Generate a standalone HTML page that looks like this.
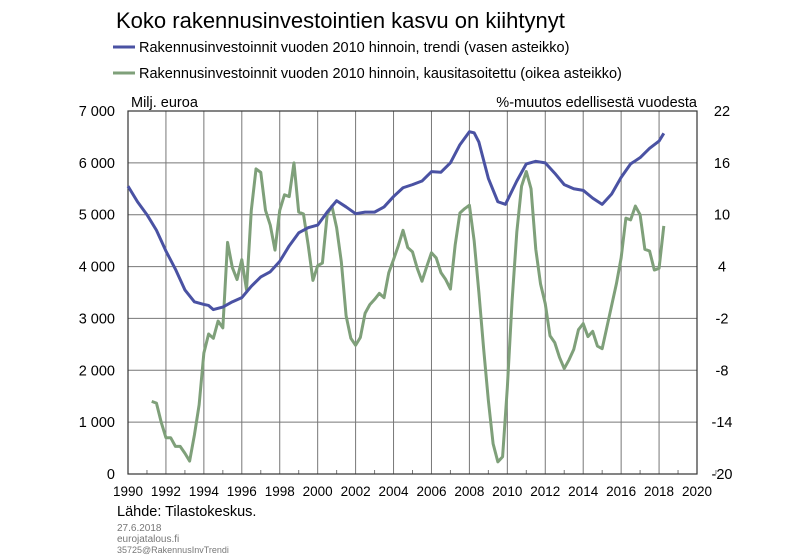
<!DOCTYPE html>
<html><head><meta charset="utf-8"><style>
body{margin:0;background:#fff;}
svg{display:block;font-family:"Liberation Sans",Arial,sans-serif;}
</style></head><body>
<svg id="chart" width="800" height="556">
<text x="116" y="28" font-size="22" fill="#000">Koko rakennusinvestointien kasvu on kiihtynyt</text>
<g>
<line x1="113" y1="47" x2="135" y2="47" stroke="#4a52a3" stroke-width="3"/>
<text x="139" y="52" font-size="14.5">Rakennusinvestoinnit vuoden 2010 hinnoin, trendi (vasen asteikko)</text>
<line x1="113" y1="73" x2="135" y2="73" stroke="#7fa07a" stroke-width="3"/>
<text x="139" y="78" font-size="14.5">Rakennusinvestoinnit vuoden 2010 hinnoin, kausitasoitettu (oikea asteikko)</text>
</g>
<text x="131" y="107" font-size="14.5">Milj. euroa</text>
<text x="697" y="107" font-size="14.5" text-anchor="end">%-muutos edellisestä vuodesta</text>
<g id="grid"></g>
<g id="marks"></g>
<g id="labels"></g>
<text x="117" y="516" font-size="14.5">Lähde: Tilastokeskus.</text>
<text x="117" y="531" font-size="10" fill="#777">27.6.2018</text>
<text x="117" y="542" font-size="10" fill="#777">eurojatalous.fi</text>
<text x="117" y="553" font-size="9" fill="#777">35725@RakennusInvTrendi</text>
</svg>
<script>
const leftTicks=[0,1000,2000,3000,4000,5000,6000,7000];
const leftTickLabels=["0","1 000","2 000","3 000","4 000","5 000","6 000","7 000"];
const rightTickLabels=["-20","-14","-8","-2","4","10","16","22"];
const yearTicks=[1990,1992,1994,1996,1998,2000,2002,2004,2006,2008,2010,2012,2014,2016,2018,2020];
const trendYears=[1990,1990.5,1991,1991.5,1992,1992.5,1993,1993.5,1994,1994.25,1994.5,1995,1995.5,1996,1996.5,1997,1997.5,1998,1998.5,1999,1999.5,2000,2000.5,2001,2001.5,2002,2002.5,2003,2003.5,2004,2004.5,2005,2005.5,2006,2006.5,2007,2007.5,2008,2008.25,2008.5,2009,2009.5,2009.9,2010.5,2011,2011.5,2012,2012.5,2013,2013.5,2014,2014.5,2015,2015.5,2016,2016.5,2017,2017.5,2018,2018.25];
const trendValues=[5550,5250,5000,4700,4300,3950,3550,3320,3270,3250,3170,3220,3320,3400,3620,3800,3900,4100,4400,4650,4750,4800,5050,5270,5150,5020,5050,5050,5150,5350,5520,5580,5650,5830,5820,6000,6350,6600,6580,6400,5700,5250,5200,5650,5980,6030,6000,5800,5580,5500,5470,5320,5200,5400,5720,5980,6100,6280,6420,6570];
const sStart=1991.25;
const seasonalValues=[-11.6,-11.8,-14,-15.8,-15.8,-16.8,-16.8,-17.6,-18.5,-15.5,-12,-6,-3.8,-4.3,-2.3,-3.1,6.8,3.9,2.5,4.8,1.3,10.5,15.3,14.9,10.5,8.8,5.9,10.5,12.3,12.1,16,10.3,10.1,6.5,2.4,4.1,4.4,10,11,8.5,4.5,-1.7,-4.3,-5.1,-4.2,-1.4,-0.4,0.2,0.9,0.4,3.3,4.8,6.4,8.2,6.2,5.7,3.8,2.3,4,5.6,5,3.3,2.5,1.4,6.5,10.2,10.7,11.1,7,1,-5.5,-11.5,-16.5,-18.6,-18,-10,0,8,13.3,15,13,6,2,-0.3,-4,-4.8,-6.5,-7.8,-6.8,-5.6,-3.3,-2.6,-4.1,-3.5,-5.2,-5.5,-3,-0.5,2,5,9.6,9.4,11,10,6,5.8,3.6,3.8,8.7];
const X0=128,X1=697,Y0=474,Y1=111;
const xs=y=>X0+(y-1990)/30*(X1-X0);
const yl=v=>Y0-v/7000*(Y0-Y1);
const yr=v=>Y0-(v+20)/42*(Y0-Y1);
const NS="http://www.w3.org/2000/svg";
function mk(t,a,p){const e=document.createElementNS(NS,t);for(const k in a)e.setAttribute(k,a[k]);p.appendChild(e);return e;}
const grid=document.getElementById('grid'),marks=document.getElementById('marks'),labels=document.getElementById('labels');
leftTicks.forEach((v,i)=>{
 const l=mk('line',{x1:X0,x2:X1,y1:yl(v),y2:yl(v),stroke:'#777','stroke-width':1},grid);
 
 
 const t=mk('text',{x:115,y:yl(v)+5,'font-size':14.5,'text-anchor':'end'},labels);t.textContent=leftTickLabels[i];
 
 
 const r=mk('text',{x:722,y:yl(v)+5,'font-size':14.5,'text-anchor':'middle'},labels);r.textContent=rightTickLabels[i];
 
 
});
yearTicks.forEach(y=>{
 const l=mk('line',{x1:xs(y),x2:xs(y),y1:Y1,y2:Y0,stroke:'#777','stroke-width':1},grid);
 
 
 const m=mk('line',{x1:xs(y+1),x2:xs(y+1),y1:Y0,y2:Y0-4,stroke:'#777'},grid);
 
 
 const t=mk('text',{x:xs(y),y:496,'font-size':13.5,'text-anchor':'middle'},labels);t.textContent=y;
 
 
});
const fr=mk('rect',{x:X0,y:Y1,width:X1-X0,height:Y0-Y1,fill:'none',stroke:'#333','stroke-width':1.2},grid);


const sp=mk('polyline',{points:seasonalValues.map((v,i)=>xs(sStart+i*0.25)+','+yr(v)).join(' '),fill:'none',stroke:'#7fa07a','stroke-width':3,'stroke-linejoin':'round'},marks);


const tp=mk('polyline',{points:trendValues.map((v,i)=>xs(trendYears[i])+','+yl(v)).join(' '),fill:'none',stroke:'#4a52a3','stroke-width':3,'stroke-linejoin':'round'},marks);


</script>
</body></html>
